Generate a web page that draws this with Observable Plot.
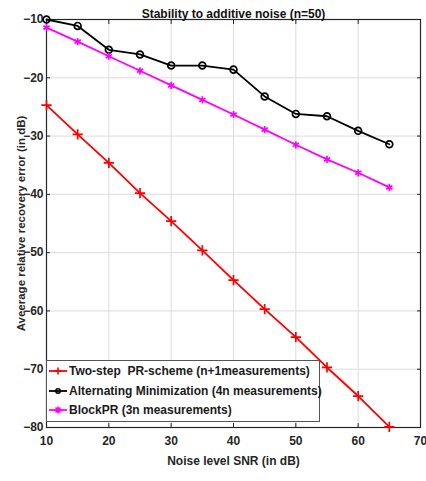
<!DOCTYPE html>
<html>
<head>
<meta charset="utf-8">
<script src="https://cdn.jsdelivr.net/npm/d3@7"></script>
<script src="https://cdn.jsdelivr.net/npm/@observablehq/plot@0.6"></script>
<style>
  body { margin: 0; background: #fff; }
  #wrap { position: relative; width: 426px; height: 481px; font-family: "Liberation Sans", Arial, sans-serif; }
  #legend { position: absolute; left: 46px; top: 360px; width: 274px; height: 62px; border: 1px solid #555; background: #fff; box-sizing: border-box; font-weight: bold; font-size: 12px; color: #1a1a1a; }
  .row { position: absolute; left: 0; height: 18px; display: flex; align-items: center; white-space: nowrap; }
  .row svg { margin-left: 1px; margin-right: 1px; }
</style>
</head>
<body>
<div id="wrap"></div>
<script>
const snr = [10, 15, 20, 25, 30, 35, 40, 45, 50, 55, 60, 65];
const twoStep = [-24.7, -29.7, -34.6, -39.8, -44.6, -49.6, -54.7, -59.7, -64.5, -69.7, -74.6, -79.9];
const altMin = [-10.0, -11.1, -15.2, -16.0, -17.9, -17.9, -18.6, -23.2, -26.2, -26.6, -29.1, -31.4];
const blockPR = [-11.4, -13.8, -16.3, -18.8, -21.3, -23.8, -26.3, -28.9, -31.5, -34.0, -36.3, -38.8];
const seriesNames = ["Two-step  PR-scheme (n+1measurements)", "Alternating Minimization (4n measurements)", "BlockPR (3n measurements)"];
const seriesColors = ["#ff0000", "#000000", "#ff00ff"];
const seriesSymbols = ["plus", "circle", "asterisk"];
const xTicks = [10, 20, 30, 40, 50, 60, 70];
const yTicks = [-80, -70, -60, -50, -40, -30, -20, -10];
const title = "Stability to additive noise (n=50)";
const xLabel = "Noise level SNR (in dB)";
const yLabel = "Aveerage relative recovery error (in dB)";

const series = [twoStep, altMin, blockPR];
const data = series.flatMap((vals, i) => vals.map((v, j) => ({x: snr[j], y: v, s: seriesNames[i]})));

const font = "'Liberation Sans', Arial, sans-serif";
const plot = Plot.plot({
  width: 426,
  height: 481,
  marginTop: 19,
  marginLeft: 46,
  marginRight: 6,
  marginBottom: 54,
  style: {fontFamily: font, fontWeight: "bold", fontSize: "12px", color: "#262626", background: "#fff"},
  x: {domain: [10, 70], ticks: xTicks, tickFormat: d => String(d)},
  y: {domain: [-80, -10], ticks: yTicks, tickFormat: d => String(d)},
  color: {domain: seriesNames, range: seriesColors},
  symbol: {domain: seriesNames, range: seriesSymbols},
  marks: [
    Plot.gridX(xTicks, {stroke: "#dcdcdc", strokeOpacity: 1}),
    Plot.gridY(yTicks, {stroke: "#dcdcdc", strokeOpacity: 1}),
    Plot.frame({stroke: "#262626", strokeWidth: 1.2}),
    Plot.axisX(xTicks, {anchor: "bottom", tickSize: -4, tickPadding: 13, fontSize: 12, label: xLabel, labelAnchor: "center", labelArrow: "none", labelOffset: 37, stroke: "#262626"}),
    Plot.axisX(xTicks, {anchor: "top", tickSize: -4, tickFormat: () => "", label: null, stroke: "#262626"}),
    Plot.axisY(yTicks, {anchor: "left", tickSize: -4, tickPadding: 7, fontSize: 12, label: yLabel, labelAnchor: "center", labelArrow: "none", labelOffset: 30, stroke: "#262626"}),
    Plot.axisY(yTicks, {anchor: "right", tickSize: -4, tickFormat: () => "", label: null, stroke: "#262626"}),
    Plot.line(data, {x: "x", y: "y", z: "s", stroke: "s", strokeWidth: 1.8}),
    Plot.dot(data, {x: "x", y: "y", symbol: "s", stroke: "s", r: 3.4, strokeWidth: 1.7, fill: "none"}),
    Plot.text([title], {frameAnchor: "top", dy: -10, fontSize: 12, fontWeight: "bold", fill: "#111"})
  ]
});
// shrink y label a bit (condensed look in the reference)
plot.querySelectorAll("g[aria-label='y-axis label'] text").forEach(t => t.setAttribute("font-size", "11.5"));
const wrap = document.getElementById("wrap");
wrap.appendChild(plot);

// legend
const symPaths = {
  plus: "M-3.5,0H3.5M0,-3.5V3.5",
  circle: "M2.2,0A2.2,2.2,0,1,1,-2.2,0A2.2,2.2,0,1,1,2.2,0",
  asterisk: "M-3.5,0H3.5M0,-3.5V3.5M-2.5,-2.5L2.5,2.5M-2.5,2.5L2.5,-2.5"
};
const legend = document.createElement("div");
legend.id = "legend";
seriesNames.forEach((name, i) => {
  const row = document.createElement("div");
  row.className = "row";
  row.style.top = (1 + i * 19.5) + "px";
  const svg = d3.create("svg").attr("width", 20).attr("height", 12);
  svg.append("line").attr("x1", 1).attr("x2", 19).attr("y1", 6).attr("y2", 6).attr("stroke", seriesColors[i]).attr("stroke-width", 1.8);
  svg.append("path").attr("d", symPaths[seriesSymbols[i]]).attr("transform", "translate(10,6)").attr("stroke", seriesColors[i]).attr("fill", "none").attr("stroke-width", 1.6);
  row.appendChild(svg.node());
  const span = document.createElement("span");
  span.textContent = name;
  span.style.whiteSpace = "pre";
  row.appendChild(span);
  legend.appendChild(row);
});
wrap.appendChild(legend);
</script>
</body>
</html>
